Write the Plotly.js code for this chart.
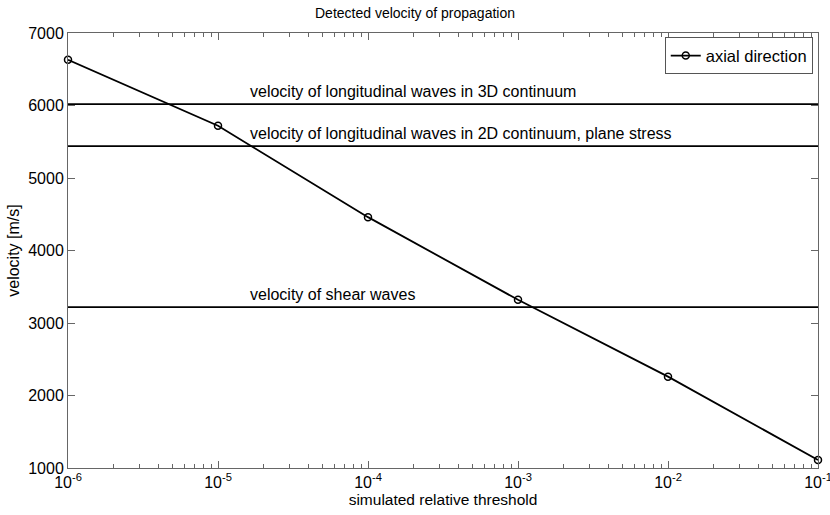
<!DOCTYPE html>
<html><head><meta charset="utf-8">
<script src="https://cdn.plot.ly/plotly-3.0.1.min.js"></script>
<style>html,body{margin:0;padding:0;background:#fff}#chart{width:830px;height:515px}</style>
</head><body><div id="chart"></div>
<script>
const thresholds = [1e-6, 1e-5, 1e-4, 1e-3, 1e-2, 1e-1];
const axialVelocity = [6630, 5720, 4460, 3320, 2260, 1110];
const refLabels = ["velocity of longitudinal waves in 3D continuum",
                   "velocity of longitudinal waves in 2D continuum, plane stress",
                   "velocity of shear waves"];
const refVelocity = [6020, 5440, 3220];
const xTickVals = [1e-6, 1e-5, 1e-4, 1e-3, 1e-2, 1e-1];
const xTickText = ["10<sup>-6</sup>", "10<sup>-5</sup>", "10<sup>-4</sup>", "10<sup>-3</sup>", "10<sup>-2</sup>", "10<sup>-1</sup>"];
const yTicks = [1000, 2000, 3000, 4000, 5000, 6000, 7000];

// minor tick positions of the log axis (2..9 within each decade)
const minorTicks = [];
for (let d = -6; d < -1; d++) for (let k = 2; k <= 9; k++) minorTicks.push(k * Math.pow(10, d));

const font = {family: "Arial, Liberation Sans, sans-serif", color: "#000"};
const F = s => Object.assign({size: s}, font);

const ghost = ax => ({
  x: thresholds, y: axialVelocity, xaxis: ax, type: "scatter", mode: "lines",
  showlegend: false, hoverinfo: "skip", opacity: 0, line: {width: 0}
});

const traces = [{
  x: thresholds, y: axialVelocity, type: "scatter", mode: "lines+markers",
  name: "axial direction", cliponaxis: false,
  line: {color: "#000", width: 1.8},
  marker: {symbol: "circle-open", size: 7, color: "#000", line: {width: 1.5}}
}, ghost("x2"), ghost("x3")];

const shapes = refVelocity.map(v => ({
  type: "line", xref: "paper", x0: 0, x1: 1, yref: "y", y0: v, y1: v,
  line: {color: "#000", width: 1.8}
}));
const annotations = refLabels.map((t, i) => ({
  text: t, xref: "x", x: -4.8, yref: "y", y: refVelocity[i], yshift: 2,
  xanchor: "left", yanchor: "bottom", showarrow: false, font: F(16)
}));

const xRange = [-6, -0.99999];
const minorAxis = side => ({
  type: "log", range: xRange, overlaying: "x", anchor: "y", side: side,
  tickvals: minorTicks, showticklabels: false,
  showgrid: false, zeroline: false, showline: false,
  ticks: "inside", ticklen: 4, tickcolor: "#666"
});
const layout = {
  width: 830, height: 515,
  margin: {l: 68, r: 12, t: 33, b: 47},
  paper_bgcolor: "#fff", plot_bgcolor: "#fff",
  font: F(15),
  title: {text: "Detected velocity of propagation", font: F(14),
          x: 0.5, xanchor: "center", y: 0.985, yanchor: "top"},
  xaxis: {
    type: "log", range: xRange, tickvals: xTickVals, ticktext: xTickText,
    showgrid: false, zeroline: false, showline: true, linecolor: "#666", linewidth: 1,
    mirror: "ticks", ticks: "inside", ticklen: 7, tickcolor: "#666",
    tickfont: F(16), ticklabeloverflow: "allow",
    title: {text: "simulated relative threshold", font: F(15.5), standoff: 2}
  },
  xaxis2: minorAxis("bottom"),
  xaxis3: minorAxis("top"),
  yaxis: {
    range: [1000, 7000], tickvals: yTicks, ticktext: yTicks.map(String),
    showgrid: false, zeroline: false, showline: true, linecolor: "#666", linewidth: 1,
    mirror: "ticks", ticks: "inside", ticklen: 7, tickcolor: "#666",
    tickfont: F(16),
    title: {text: "velocity [m/s]", font: F(16), standoff: 4}
  },
  showlegend: true,
  legend: {x: 0.993, y: 0.99, xanchor: "right", yanchor: "top",
           bgcolor: "#fff", bordercolor: "#555", borderwidth: 1,
           font: F(16.5), itemwidth: 30},
  shapes: shapes, annotations: annotations
};

Plotly.newPlot("chart", traces, layout, {displayModeBar: false, staticPlot: true});
</script></body></html>
